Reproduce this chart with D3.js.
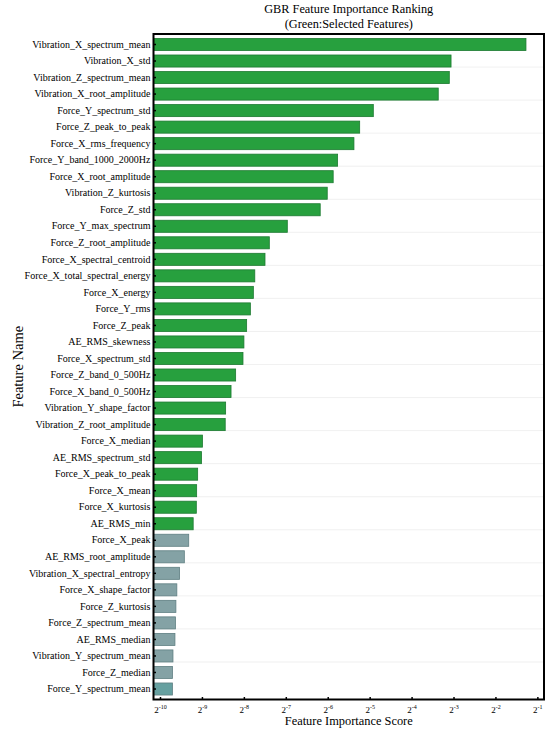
<!DOCTYPE html>
<html>
<head>
<meta charset="utf-8">
<script src="https://cdn.jsdelivr.net/npm/d3@7"></script>
<style>
body { margin: 0; background: #fff; }
text { font-family: "Liberation Serif", "Times New Roman", serif; }
</style>
</head>
<body>
<script>
// features, top to bottom
var features = [
    "Vibration_X_spectrum_mean", "Vibration_X_std", "Vibration_Z_spectrum_mean",
    "Vibration_X_root_amplitude", "Force_Y_spectrum_std", "Force_Z_peak_to_peak",
    "Force_X_rms_frequency", "Force_Y_band_1000_2000Hz", "Force_X_root_amplitude",
    "Vibration_Z_kurtosis", "Force_Z_std", "Force_Y_max_spectrum",
    "Force_Z_root_amplitude", "Force_X_spectral_centroid", "Force_X_total_spectral_energy",
    "Force_X_energy", "Force_Y_rms", "Force_Z_peak", "AE_RMS_skewness",
    "Force_X_spectrum_std", "Force_Z_band_0_500Hz", "Force_X_band_0_500Hz",
    "Vibration_Y_shape_factor", "Vibration_Z_root_amplitude", "Force_X_median",
    "AE_RMS_spectrum_std", "Force_X_peak_to_peak", "Force_X_mean", "Force_X_kurtosis",
    "AE_RMS_min", "Force_X_peak", "AE_RMS_root_amplitude", "Vibration_X_spectral_entropy",
    "Force_X_shape_factor", "Force_Z_kurtosis", "Force_Z_spectrum_mean", "AE_RMS_median",
    "Vibration_Y_spectrum_mean", "Force_Z_median", "Force_Y_spectrum_mean"
];

var importance = [
    0.414, 0.120, 0.1166, 0.0971, 0.0332, 0.0265, 0.0241, 0.0184, 0.0171, 0.0155,
    0.0138, 0.00801, 0.00595, 0.00554, 0.00468, 0.00457, 0.00435, 0.00409, 0.00391,
    0.00385, 0.00341, 0.00316, 0.00289, 0.00287, 0.00197, 0.00194, 0.00182, 0.00179,
    0.00178, 0.00169, 0.00157, 0.00146, 0.00135, 0.00129, 0.00127, 0.00126, 0.00125,
    0.00121, 0.00120, 0.00120
];

// first 30 features were selected
var selected = features.map((d, i) => i < 30);

var tickExponents = [-10, -9, -8, -7, -6, -5, -4, -3, -2, -1];

var W = 550, H = 736;
var plotLeft = 153.5, plotRight = 544, plotTop = 34, plotBottom = 699.5;

var svg = d3.select("body").append("svg")
    .attr("width", W)
    .attr("height", H);

var x = d3.scaleLog().base(2)
    .domain([Math.pow(2, -10.155), Math.pow(2, -0.842)])
    .range([plotLeft, plotRight]);

var y = d3.scaleBand()
    .domain(features)
    .range([plotTop, plotBottom])
    .padding(0.27);

// faint horizontal grid
var step = y.step();
for (var k = 2; k < features.length; k += 2) {
    svg.append("line")
        .attr("x1", plotLeft).attr("x2", plotRight)
        .attr("y1", plotTop + k * step).attr("y2", plotTop + k * step)
        .attr("stroke", "#ececec")
        .attr("stroke-width", 0.8);
}

var data = features.map((f, i) => ({ name: f, value: importance[i], sel: selected[i], last: i == features.length - 1 }));

svg.selectAll("rect.bar")
    .data(data)
    .enter().append("rect")
    .attr("class", "bar")
    .attr("x", plotLeft)
    .attr("y", d => y(d.name))
    .attr("width", d => x(d.value) - plotLeft)
    .attr("height", y.bandwidth())
    .attr("fill", d => d.sel ? "#27a03e" : (d.last ? "#66a0a0" : "#84a2a5"))
    .attr("stroke", d => d.sel ? "#1d7a31" : "#5f7f82")
    .attr("stroke-width", 0.8);

// y axis
var yAxis = d3.axisLeft(y).tickSize(-2.5).tickPadding(3);
var gy = svg.append("g")
    .attr("transform", "translate(" + plotLeft + ",0)")
    .call(yAxis);
gy.select(".domain").remove();
gy.selectAll("text").attr("font-size", 10).attr("fill", "#000");
gy.selectAll("line").attr("stroke", "#000").attr("stroke-width", 1.5);

// x axis
var xAxis = d3.axisBottom(x)
    .tickValues(tickExponents.map(e => Math.pow(2, e)))
    .tickSize(-2.5)
    .tickPadding(6)
    .tickFormat("");
var gx = svg.append("g")
    .attr("transform", "translate(0," + plotBottom + ")")
    .call(xAxis);
gx.select(".domain").remove();
gx.selectAll("line").attr("stroke", "#000").attr("stroke-width", 1.5);

gx.selectAll(".tick").each(function (d, i) {
    var t = d3.select(this).append("text")
        .attr("y", 13)
        .attr("text-anchor", "middle")
        .attr("fill", "#000")
        .attr("font-size", 9)
        .text("2");
    t.append("tspan").attr("dy", -4).attr("font-size", 6).text("-" + Math.abs(tickExponents[i]));
});

// frame
svg.append("rect")
    .attr("x", plotLeft).attr("y", plotTop)
    .attr("width", plotRight - plotLeft).attr("height", plotBottom - plotTop)
    .attr("fill", "none")
    .attr("stroke", "#000")
    .attr("stroke-width", 2);

// title
var cx = (plotLeft + plotRight) / 2;
svg.append("text")
    .attr("x", cx).attr("y", 13)
    .attr("text-anchor", "middle")
    .attr("font-size", 12.3)
    .text("GBR Feature Importance Ranking");
svg.append("text")
    .attr("x", cx).attr("y", 28)
    .attr("text-anchor", "middle")
    .attr("font-size", 12.3)
    .text("(Green:Selected Features)");

svg.append("text")
    .attr("x", cx).attr("y", 725)
    .attr("text-anchor", "middle")
    .attr("font-size", 12.4)
    .text("Feature Importance Score");

svg.append("text")
    .attr("transform", "translate(23," + ((plotTop + plotBottom) / 2) + ") rotate(-90)")
    .attr("text-anchor", "middle")
    .attr("font-size", 14.5)
    .text("Feature Name");
</script>
</body>
</html>
